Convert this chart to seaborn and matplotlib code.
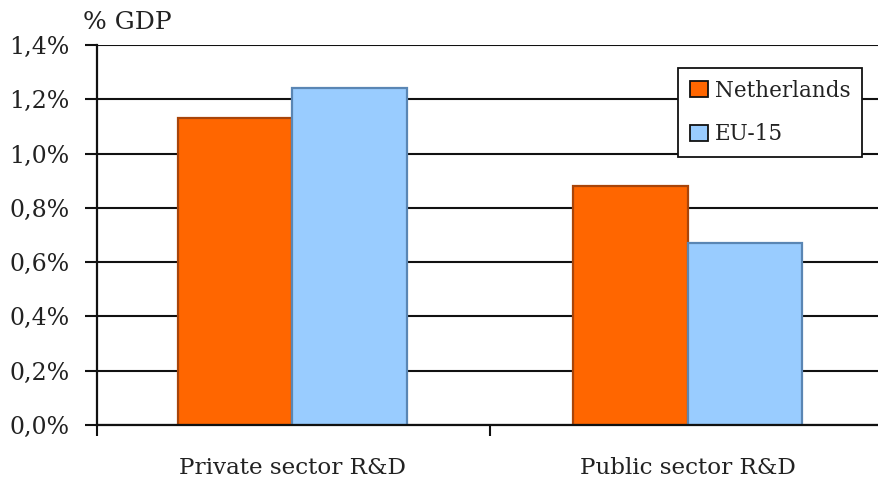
import matplotlib
matplotlib.use("Agg")
import matplotlib.pyplot as plt
from matplotlib.ticker import FixedLocator, FuncFormatter
from matplotlib.patches import Patch
import pandas as pd
import seaborn as sns

# R&D expenditure as share of GDP
categories = ["Private sector R&D", "Public sector R&D"]
series_names = ["Netherlands", "EU-15"]
netherlands = [1.13, 0.88]
eu15 = [1.24, 0.67]
y_ticks = [0.0, 0.2, 0.4, 0.6, 0.8, 1.0, 1.2, 1.4]

df = pd.DataFrame({
    "category": categories * 2,
    "region": [series_names[0]] * 2 + [series_names[1]] * 2,
    "value": netherlands + eu15,
})

sns.set_style("white")
plt.rcParams["font.family"] = ["DejaVu Serif"]

W, H = 879, 487
fig = plt.figure(figsize=(W / 100, H / 100), dpi=100)
ax_left, ax_right, ax_top, ax_bottom = 97, 879, 45, 425
ax = fig.add_axes([ax_left / W, 1 - ax_bottom / H,
                   (ax_right - ax_left) / W, (ax_bottom - ax_top) / H])

fills = {"Netherlands": "#FF6600", "EU-15": "#99CCFF"}
edges = {"Netherlands": "#A8450A", "EU-15": "#5A86B4"}

sns.barplot(data=df, x="category", y="value", hue="region",
            order=categories, hue_order=series_names,
            palette=fills, width=0.58, gap=0, ax=ax, legend=False,
            saturation=1, zorder=3)

for container, name in zip(ax.containers, series_names):
    for bar in container:
        bar.set_edgecolor(edges[name])
        bar.set_linewidth(1.6)

# axis ranges: one category slot spans 395 px
slot = 395.0
x_lo = -(292 - ax_left) / slot
x_hi = 1 + (ax_right - 688) / slot
ax.set_xlim(x_lo, x_hi)
ax.set_ylim(0, 1.4)

ax.yaxis.set_major_locator(FixedLocator(y_ticks))
ax.yaxis.set_major_formatter(FuncFormatter(lambda v, p: f"{v:.1f}".replace(".", ",") + "%"))
ax.grid(axis="y", color="#111111", linewidth=1.5, zorder=0)
ax.grid(axis="x", visible=False)

ax.set_xticks([0, 1])
ax.set_xticklabels(categories)
ax.set_xticks([x_lo, 0.5], minor=True)
ax.tick_params(axis="x", which="major", length=0, pad=23, labelsize=16.6, labelcolor="#222222")
ax.tick_params(axis="x", which="minor", length=8, width=1.5, direction="out", color="#111111", bottom=True)
ax.tick_params(axis="y", length=9, width=1.5, direction="out", color="#111111",
               left=True, pad=11, labelsize=17, labelcolor="#222222")

ax.set_xlabel("")
ax.set_ylabel("")
for side in ["top", "right"]:
    ax.spines[side].set_visible(False)
for side in ["left", "bottom"]:
    ax.spines[side].set_color("#111111")
    ax.spines[side].set_linewidth(1.6)
ax.spines["bottom"].set_zorder(4)

fig.text(83 / W, 1 - 29 / H, "% GDP", fontsize=18, color="#222222",
         ha="left", va="baseline")

handles = [Patch(facecolor=fills[n], edgecolor="#111111", linewidth=1.3) for n in series_names]
leg = ax.legend(handles, series_names, loc="upper right",
                bbox_to_anchor=((862 - ax_left) / (ax_right - ax_left), (ax_bottom - 68) / (ax_bottom - ax_top)),
                frameon=True, fancybox=False, framealpha=1, edgecolor="#111111",
                fontsize=15.5, handlelength=0.83, handleheight=0.75, handletextpad=0.3,
                labelspacing=1.0, borderpad=0.55, borderaxespad=0)
leg.get_frame().set_linewidth(1.3)
leg.set_zorder(5)
for t in leg.get_texts():
    t.set_color("#222222")

fig.savefig("out.png", dpi=100)
